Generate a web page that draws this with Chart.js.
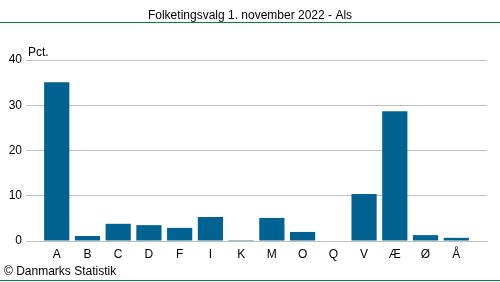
<!DOCTYPE html>
<html>
<head>
<meta charset="utf-8">
<script src="https://cdn.jsdelivr.net/npm/chart.js@4"></script>
<style>
  html, body { margin: 0; padding: 0; background: #fff; }
  #wrap { width: 500px; height: 282px; position: relative; }
</style>
</head>
<body>
<div id="wrap"><canvas id="myChart" width="500" height="282"></canvas></div>
<script>
const titleText = "Folketingsvalg 1. november 2022 - Als";
const parties = ["A", "B", "C", "D", "F", "I", "K", "M", "O", "Q", "V", "Æ", "Ø", "Å"];
const pct = [35.1, 1.1, 3.8, 3.5, 2.9, 5.3, 0.2, 5.1, 2.0, 0, 10.4, 28.7, 1.3, 0.7];
const yTicks = [0, 10, 20, 30, 40];

// blank slot at each end so the gridlines run past the outer bars
const labels = [""].concat(parties, [""]);
const values = [null].concat(pct, [null]);

const font = "'Liberation Sans', Arial, sans-serif";

const decor = {
  id: "decor",
  afterDraw(chart) {
    const c = chart.ctx;
    c.save();
    c.fillStyle = "#000";
    c.font = "12px " + font;
    c.textAlign = "center";
    c.textBaseline = "alphabetic";
    c.fillText(titleText, 250, 19);
    c.strokeStyle = "#00843d";
    c.lineWidth = 1;
    c.beginPath();
    c.moveTo(0, 22.5); c.lineTo(500, 22.5);
    c.moveTo(0, 280.5); c.lineTo(500, 280.5);
    c.stroke();
    c.textAlign = "left";
    c.fillText("Pct.", 28, 56);
    c.fillText("© Danmarks Statistik", 4, 275);
    c.restore();
  }
};

const ctx = document.getElementById("myChart");
new Chart(ctx, {
  type: "bar",
  data: {
    labels: labels,
    datasets: [{
      data: values,
      backgroundColor: "#006291",
      barPercentage: 0.82,
      categoryPercentage: 1
    }]
  },
  options: {
    responsive: false,
    animation: false,
    layout: { padding: { top: 60, right: 13, left: 0, bottom: 0 } },
    plugins: {
      legend: { display: false },
      tooltip: { enabled: false }
    },
    scales: {
      x: {
        offset: false,
        grid: { display: false, drawTicks: false },
        border: { color: "#bebebe" },
        ticks: {
          color: "#000",
          font: { family: font, size: 12 },
          padding: 6,
          maxRotation: 0,
          autoSkip: false
        },
        afterFit: (s) => { s.height = 41; }
      },
      y: {
        min: 0,
        max: 40,
        afterBuildTicks: (s) => { s.ticks = yTicks.map(v => ({ value: v })); },
        grid: { color: "#bebebe", drawTicks: false },
        border: { display: false },
        ticks: {
          color: "#000",
          font: { family: font, size: 12 },
          padding: 4
        },
        afterFit: (s) => { s.width = 26; }
      }
    }
  },
  plugins: [decor]
});
</script>
</body>
</html>
